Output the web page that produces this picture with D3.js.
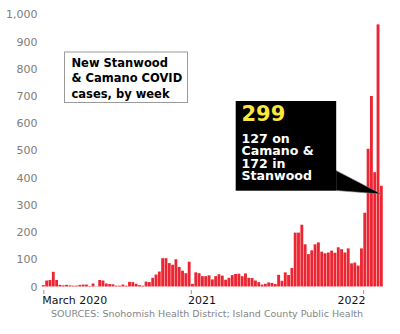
<!DOCTYPE html>
<html><head><meta charset="utf-8">
<script src="https://cdn.jsdelivr.net/npm/d3@7"></script>
<style>
html,body{margin:0;padding:0;background:#fff;}
svg{display:block;font-family:"DejaVu Sans",Verdana,sans-serif;}
</style>
</head><body>
<svg id="c" width="400" height="334"></svg>
<script>
// Weekly new COVID cases, Stanwood & Camano
const cases = [
  5, 22, 24, 54, 24, 6, 4, 6, 4, 3, 3, 6, 7, 7, 2, 11, 1, 24, 22, 11, 9, 8, 3, 3, 7, 3, 17, 16, 10,
  5, 3, 18, 16, 32, 44, 55, 104, 104, 86, 80, 100, 72, 58, 49, 91, 10,
  52, 49, 38, 38, 41, 26, 38, 45, 40, 25, 32, 42, 46, 47, 38, 48, 32, 31, 22, 16, 7, 10, 15, 13, 9, 43, 21, 52, 42, 68,
  198, 198, 227, 155, 119, 133, 155, 162, 128, 122, 125, 132, 124, 144, 137, 125, 140, 85, 88, 77, 140,
  271, 506, 700, 420, 963, 370
];
const weeks = cases.map((_, i) => i);
const yTicks = [0, 100, 200, 300, 400, 500, 600, 700, 800, 900, 1000];
const xTickLabels = ["March 2020", "2021", "2022"];
const xTickWeeks = [0.5, 45, 97];
const titleLines = ["New Stanwood", "& Camano COVID", "cases, by week"];
const calloutTotal = "299";
const calloutLines = ["127 on", "Camano &", "172 in", "Stanwood"];
const sourceText = "SOURCES: Snohomish Health District; Island County Public Health";

const FONT = '"DejaVu Sans", Verdana, sans-serif';
const svg = d3.select("#c");
const plotL = 41.7, plotR = 383, plotT = 14.3, plotB = 286.5;

const x = d3.scaleBand().domain(weeks).range([plotL, plotR]).paddingInner(0.14).paddingOuter(0.07);
const xw = d3.scaleLinear().domain([0, cases.length]).range([plotL, plotR]);
const y = d3.scaleLinear().domain([0, 1000]).range([plotB, plotT]);

// bars
svg.append("g").selectAll("rect").data(cases).join("rect")
  .attr("x", (d, i) => x(i))
  .attr("y", d => y(d))
  .attr("width", x.bandwidth())
  .attr("height", d => y(0) - y(d))
  .attr("fill", "#eb2531");

// y axis
const ya = svg.append("g").attr("transform", "translate(37.5,0)")
  .call(d3.axisLeft(y).tickValues(yTicks).tickFormat(d3.format(",")).tickSize(0).tickPadding(0));
ya.select(".domain").remove();
ya.attr("font-family", FONT).attr("font-size", 11);
ya.selectAll("text").attr("fill", "#7d7d7d");

// x axis
const xa = svg.append("g").attr("transform", "translate(0,290)")
  .call(d3.axisBottom(xw).tickValues(xTickWeeks).tickFormat((d, i) => xTickLabels[i]).tickSize(4).tickPadding(2.6));
xa.select(".domain").remove();
xa.attr("font-family", FONT).attr("font-size", 11);
xa.selectAll("line").attr("stroke", "#999");
const anchors = ["start", "start", "end"], dxs = [-1.6, -3.4, 2];
xa.selectAll("text").attr("fill", "#111")
  .attr("text-anchor", (d, i) => anchors[i]).attr("dx", (d, i) => dxs[i]);

// source
svg.append("text").attr("x", 51).attr("y", 316.6)
  .attr("font-family", FONT).attr("font-size", 9.5).attr("fill", "#858585").text(sourceText);

// title box
const tb = svg.append("g");
tb.append("rect").attr("x", 64.5).attr("y", 52).attr("width", 123).attr("height", 50.5)
  .attr("fill", "#fff").attr("stroke", "#9a9a9a").attr("stroke-width", 1);
tb.selectAll("text").data(titleLines).join("text")
  .attr("x", 71.5).attr("y", (d, i) => 66.5 + i * 15.5)
  .attr("font-family", FONT).attr("font-size", 11.5).attr("font-weight", "bold").attr("fill", "#000")
  .text(d => d);

// callout
const cb = svg.append("g");
const tipX = x(cases.length - 1) + x.bandwidth() / 2, tipY = 194;
cb.append("path")
  .attr("d", `M336,170.5 L${tipX},${tipY} L336,190.5 Z`)
  .attr("fill", "#000").attr("stroke", "#8a8a8a").attr("stroke-width", 0.6).attr("stroke-linejoin", "miter");
cb.append("rect").attr("x", 235.7).attr("y", 101).attr("width", 100.5).attr("height", 89.7).attr("fill", "#000");
cb.append("text").attr("x", 241.5).attr("y", 120.8)
  .attr("font-family", FONT).attr("font-size", 21).attr("font-weight", "bold").attr("fill", "#fbe83c")
  .text(calloutTotal);
cb.selectAll("text.l").data(calloutLines).join("text").attr("class", "l")
  .attr("x", 241.5).attr("y", (d, i) => 142.7 + i * 12.5)
  .attr("font-family", FONT).attr("font-size", 12.6).attr("font-weight", "bold").attr("fill", "#fff")
  .text(d => d);
</script>
</body></html>
